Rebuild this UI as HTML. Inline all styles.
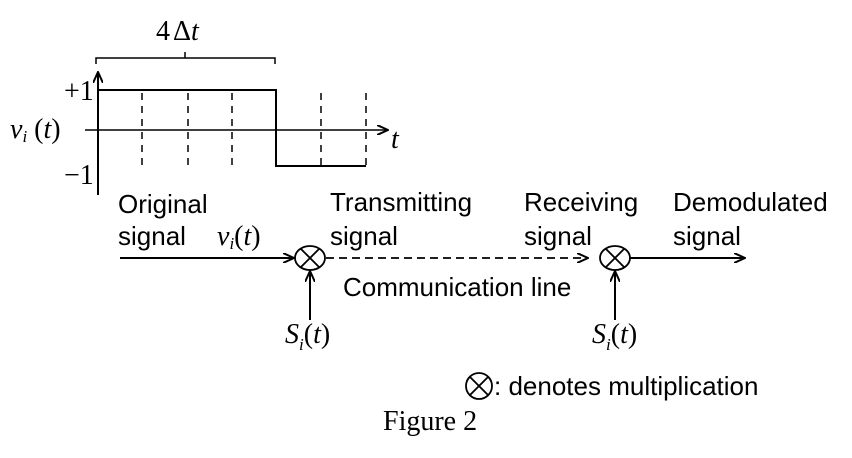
<!DOCTYPE html>
<html><head><style>
body{margin:0;background:#fff;}
svg text{fill:#000}
.s{font-family:"Liberation Sans",sans-serif;font-size:26px}
.r{font-family:"Liberation Serif",serif;font-size:28px}
.i{font-family:"Liberation Serif",serif;font-size:28px;font-style:italic}
</style></head><body>
<svg width="852" height="453" xmlns="http://www.w3.org/2000/svg">
<defs><marker id="a" markerWidth="12" markerHeight="10" refX="11" refY="5" orient="auto" markerUnits="userSpaceOnUse"><path d="M0,0 L11,5 L0,10" fill="none" stroke="#000" stroke-width="2"/></marker></defs>
<text class="r" x="156" y="40" font-size="30">4<tspan dx="3">Δ</tspan><tspan font-style="italic">t</tspan></text>
<path d="M96,64 V58 H275 V64 M185,58 V52" fill="none" stroke="#000" stroke-width="1.5"/>
<line x1="98" y1="195" x2="98" y2="72" stroke="#000" stroke-width="2" marker-end="url(#a)"/>
<line x1="85" y1="130" x2="388" y2="130" stroke="#000" stroke-width="1.5" marker-end="url(#a)"/>
<path d="M99,90 H276 V166 H366" fill="none" stroke="#000" stroke-width="2"/>
<g stroke="#000" stroke-width="1.5" stroke-dasharray="7,6">
<line x1="142" y1="93" x2="142" y2="168"/><line x1="188" y1="93" x2="188" y2="168"/>
<line x1="232" y1="93" x2="232" y2="168"/><line x1="321" y1="93" x2="321" y2="168"/>
<line x1="366" y1="93" x2="366" y2="168"/></g>
<text class="r" x="64" y="100">+1</text>
<text class="r" x="64" y="184">−1</text>
<text class="i" x="10" y="138">v<tspan font-size="17" dy="4">i</tspan><tspan dy="-4" font-style="normal"> (</tspan>t<tspan font-style="normal">)</tspan></text>
<text class="i" x="391" y="148">t</text>
<text class="s" x="118" y="213">Original</text>
<text class="s" x="118" y="245">signal</text>
<text class="i" x="217" y="245">v<tspan font-size="17" dy="4">i</tspan><tspan dy="-4" font-style="normal">(</tspan>t<tspan font-style="normal">)</tspan></text>
<line x1="120" y1="258" x2="294" y2="258" stroke="#000" stroke-width="2" marker-end="url(#a)"/>
<g fill="none" stroke="#000" stroke-width="1.8">
<ellipse cx="310" cy="258" rx="15" ry="12"/><path d="M301,249 L319,267 M319,249 L301,267"/>
<ellipse cx="615" cy="258" rx="15" ry="12"/><path d="M606,249 L624,267 M624,249 L606,267"/>
<ellipse cx="479" cy="386" rx="13" ry="13"/><path d="M470,377 L488,395 M488,377 L470,395"/>
</g>
<line x1="326" y1="258" x2="588" y2="258" stroke="#000" stroke-width="1.8" stroke-dasharray="8,5" marker-end="url(#a)"/>
<line x1="630" y1="258" x2="745" y2="258" stroke="#000" stroke-width="2" marker-end="url(#a)"/>
<line x1="310" y1="320" x2="310" y2="271" stroke="#000" stroke-width="2" marker-end="url(#a)"/>
<line x1="615" y1="320" x2="615" y2="271" stroke="#000" stroke-width="2" marker-end="url(#a)"/>
<text class="s" x="330" y="211">Transmitting</text>
<text class="s" x="330" y="245">signal</text>
<text class="s" x="524" y="211">Receiving</text>
<text class="s" x="524" y="245">signal</text>
<text class="s" x="673" y="211">Demodulated</text>
<text class="s" x="673" y="245">signal</text>
<text class="s" x="343" y="296">Communication line</text>
<text class="i" x="285" y="343">S<tspan font-size="17" dy="7">i</tspan><tspan dy="-7" font-style="normal">(</tspan>t<tspan font-style="normal">)</tspan></text>
<text class="i" x="592" y="343">S<tspan font-size="17" dy="7">i</tspan><tspan dy="-7" font-style="normal">(</tspan>t<tspan font-style="normal">)</tspan></text>
<text class="s" x="494" y="395" font-size="27">: denotes multiplication</text>
<text class="r" x="383" y="430" font-size="20">Figure 2</text>
</svg>
</body></html>
